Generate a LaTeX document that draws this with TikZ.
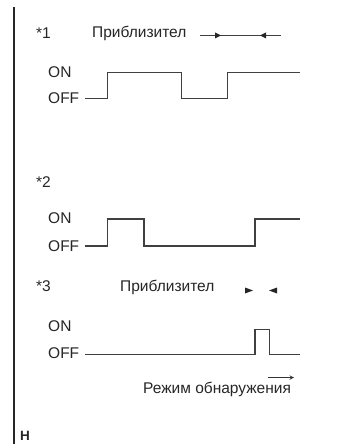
\documentclass[tikz,border=0pt]{standalone}
\usepackage{fontspec}
\setmainfont{Liberation Sans}
\begin{document}
\begin{tikzpicture}[x=1bp,y=-1bp,
  lbl/.style={inner sep=0pt,font=\fontsize{15.5bp}{17bp}\selectfont,text=black!85},
  wave/.style={line width=1.3bp,draw=black!75},
  rule/.style={line width=1.2bp,draw=black!85},
  tri/.style={fill=black!85,draw=none}]
\useasboundingbox (0,0) rectangle (338,444);
% left rule
\coordinate (rt) at (14,7);
\coordinate (rb) at (14,444);
\draw[rule] (rt) -- (rb);
% panel 1
\node[lbl,anchor=west] (n1) at (36,33) {*1};
\node[lbl,anchor=west] (p1) at (92,33) {Приблизител};
\coordinate (a1) at (200,35.5);
\coordinate (b1) at (281,35.5);
\draw[line width=1bp,draw=black!75] (a1) -- (b1);
\fill[tri] (215,32.5) -- (221,35.5) -- (215,38.5) -- cycle;
\fill[tri] (266,32.5) -- (260,35.5) -- (266,38.5) -- cycle;
\node[lbl,anchor=west] (on1) at (48,72) {ON};
\node[lbl,anchor=west] (off1) at (48,98) {OFF};
\draw[wave] (85,98.5) -- (107.3,98.5) -- (107.3,72.7) -- (181.7,72.7) -- (181.7,98.5) -- (227.3,98.5) -- (227.3,72.7) -- (300,72.7);
% panel 2
\node[lbl,anchor=west] (n2) at (36,182) {*2};
\node[lbl,anchor=west] (on2) at (48,218) {ON};
\node[lbl,anchor=west] (off2) at (48,246) {OFF};
\draw[wave] (85,246) -- (107.3,246) -- (107.3,219) -- (144,219) -- (144,246) -- (255,246) -- (255,219) -- (300,219);
% panel 3
\node[lbl,anchor=west] (n3) at (36,286) {*3};
\node[lbl,anchor=west] (p3) at (120,287) {Приблизител};
\fill[tri] (245,287.5) -- (253,290.5) -- (245,293.5) -- cycle;
\fill[tri] (277,287.5) -- (269,290.5) -- (277,293.5) -- cycle;
\node[lbl,anchor=west] (on3) at (48,326) {ON};
\node[lbl,anchor=west] (off3) at (48,353) {OFF};
\draw[wave] (85,354.3) -- (255,354.3) -- (255,329.3) -- (269.3,329.3) -- (269.3,354.3) -- (300,354.3);
\coordinate (da) at (268,377.5);
\coordinate (db) at (294,377.5);
\draw[line width=1bp,draw=black!80,-stealth] (da) -- (db);
\node[lbl,anchor=west] (rm) at (143,389) {Режим обнаружения};
\node[lbl,anchor=west,font=\fontsize{13.5bp}{15bp}\selectfont\bfseries] (h) at (20,436) {H};
\end{tikzpicture}
\end{document}
